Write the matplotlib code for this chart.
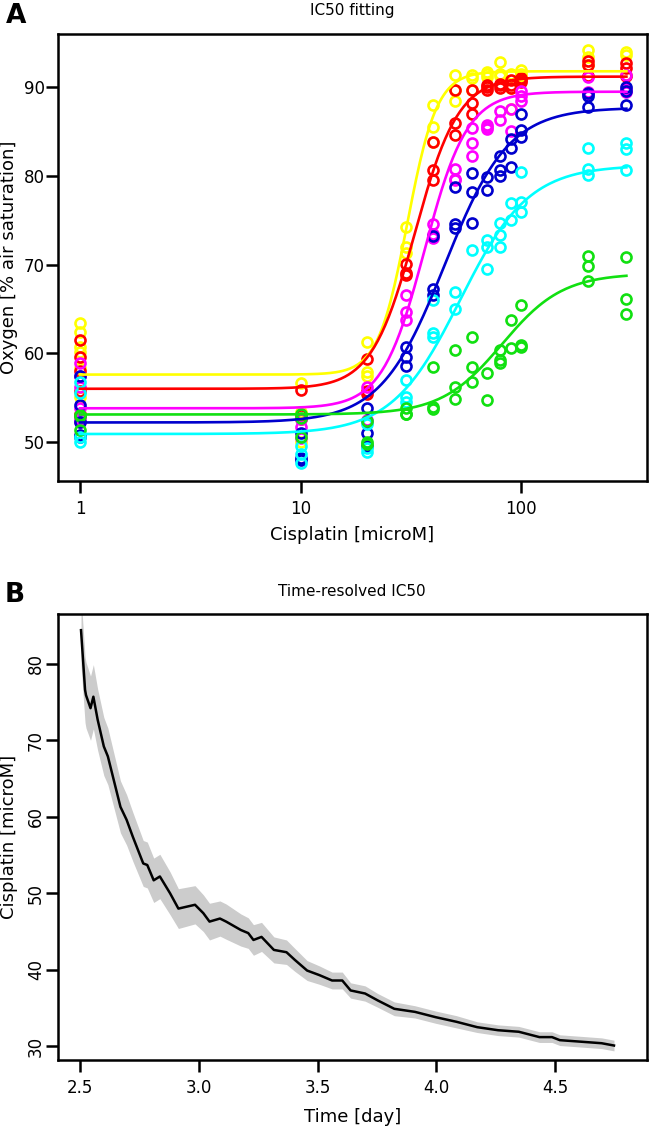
import numpy as np
import matplotlib
matplotlib.use("Agg")
import matplotlib.pyplot as plt

plt.rcParams['font.family'] = ['DejaVu Sans']

# ---- panel A: oxygen vs cisplatin concentration ----
conc = [1, 10, 20, 30, 40, 50, 60, 70, 80, 90, 100, 200, 300]

yellow_o2 = [[63.4, 62.4, 60.7, 60.2, 58.3, 55.1], [56.7, 53.4, 50.0], [61.3, 57.9, 57.4],
             [74.2, 72.0, 71.3], [88.0, 85.5, 83.8], [91.4, 89.7, 88.5], [91.4, 89.7, 91.0],
             [91.7, 91.5, 91.2], [92.9, 91.5, 91.3], [91.5, 89.9, 87.6], [92.0, 91.5, 91.3],
             [94.2, 93.4, 92.5], [94.0, 93.6, 91.4]]
red_o2 = [[61.5, 59.6, 58.0, 55.7, 53.2, 52.9], [55.9, 53.0, 52.6], [59.4, 55.7, 55.4],
          [70.1, 69.0, 68.8], [83.8, 80.7, 79.5], [89.7, 86.0, 84.6], [89.7, 88.2, 87.0],
          [89.7, 90.0, 90.2], [90.2, 89.9, 90.4], [90.8, 89.9, 90.3], [90.6, 91.0, 90.8],
          [93.0, 92.5, 91.3], [92.7, 92.2, 91.3]]
magenta_o2 = [[58.9, 57.4, 56.2, 53.8, 52.6, 52.3], [51.7, 50.4, 52.6], [56.2, 52.5, 52.2],
              [66.6, 64.7, 63.8], [74.6, 73.5, 73.0], [80.8, 79.7, 79.5], [85.4, 83.7, 82.2],
              [85.7, 85.5, 85.3], [87.3, 86.3], [87.6, 85.1], [89.6, 88.4, 89.0],
              [91.2, 89.5, 89.2], [91.4, 89.5, 89.8]]
blue_o2 = [[57.4, 54.2, 52.3, 50.8, 50.6], [51.0, 48.2, 48.0], [53.8, 51.0, 49.6],
           [60.7, 59.6, 58.6], [73.2, 67.2, 66.6], [78.8, 74.6, 74.1], [80.3, 78.2, 74.7],
           [79.9, 78.4], [82.3, 80.7, 80.0], [84.2, 83.1, 81.0], [87.0, 85.2, 84.4],
           [89.3, 87.8, 89.0], [90.0, 88.0, 89.6]]
cyan_o2 = [[56.8, 55.5, 50.6, 50.0], [48.7, 47.6, 49.5], [48.9, 49.3, 52.0],
           [57.0, 55.1, 54.5], [66.0, 62.3, 61.8], [66.9, 65.0], [71.7],
           [72.8, 72.0, 69.5], [74.7, 73.3, 72.0], [76.9, 75.0], [80.4, 77.1, 75.9],
           [83.1, 80.8, 80.1], [83.7, 83.0, 80.7]]
green_o2 = [[53.0, 52.9, 51.4], [53.2, 52.7, 50.6], [52.4, 50.0, 49.8],
            [53.8, 53.2, 53.1], [58.4, 53.9, 53.7], [60.4, 56.2, 54.9], [61.8, 58.5, 56.8],
            [57.8, 54.7], [60.4, 59.2, 58.9], [63.8, 60.6], [65.4, 60.9, 60.7],
            [71.0, 69.9, 68.1], [70.9, 66.1, 64.4]]

series_colors = ['#FFFF00', '#FF0000', '#FF00FF', '#0000CD', '#00FFFF', '#11E011']
series_points = [yellow_o2, red_o2, magenta_o2, blue_o2, cyan_o2, green_o2]

# 4-parameter logistic fit of each series
fit_bottom = [57.6, 56.0, 53.8, 52.2, 50.9, 53.1]
fit_top = [91.8, 91.2, 89.5, 87.7, 81.2, 69.0]
fit_ic50 = [30.5, 33.0, 36.5, 45.0, 53.0, 82.0]
fit_hill = [6.5, 4.4, 4.5, 3.0, 2.8, 3.16]

# ---- panel B: time-resolved IC50 ----
day = [2.504, 2.521, 2.525, 2.544, 2.556, 2.574, 2.600, 2.617, 2.670, 2.696,
       2.722, 2.766, 2.783, 2.810, 2.836, 2.879, 2.914, 2.984, 3.019, 3.045,
       3.089, 3.115, 3.177, 3.208, 3.230, 3.264, 3.316, 3.369, 3.404, 3.456,
       3.508, 3.561, 3.604, 3.639, 3.700, 3.753, 3.823, 3.910, 3.998, 4.085,
       4.172, 4.260, 4.347, 4.434, 4.487, 4.520, 4.609, 4.696, 4.748]
ic50_day = [84.4, 76.6, 75.9, 74.2, 75.7, 72.7, 69.2, 67.9, 61.3, 59.6,
            57.4, 53.9, 53.7, 51.7, 52.2, 50.0, 48.0, 48.5, 47.4, 46.3,
            46.7, 46.3, 45.2, 44.8, 43.9, 44.3, 42.6, 42.3, 41.3, 39.9,
            39.3, 38.6, 38.6, 37.3, 36.9, 36.0, 34.9, 34.5, 33.8, 33.2,
            32.5, 32.1, 31.9, 31.2, 31.2, 30.8, 30.6, 30.4, 30.1]
ic50_halfwidth = [4.5, 4.3, 4.3, 4.2, 4.2, 4.0, 3.8, 3.7, 3.4, 3.3,
                  3.2, 3.0, 3.0, 2.9, 2.9, 2.8, 2.6, 2.5, 2.4, 2.4,
                  2.3, 2.3, 2.1, 2.0, 2.0, 1.9, 1.7, 1.6, 1.5, 1.3,
                  1.2, 1.1, 1.1, 1.0, 1.0, 0.9, 0.9, 0.8, 0.8, 0.8,
                  0.7, 0.7, 0.7, 0.7, 0.7, 0.7, 0.7, 0.7, 0.7]


def style_axes(ax):
    for sp in ax.spines.values():
        sp.set_linewidth(1.8)
    ax.tick_params(width=1.8, length=8.5, labelsize=12)
    ax.tick_params(axis='x', pad=5)
    ax.tick_params(axis='y', pad=1)


fig = plt.figure(figsize=(6.5, 11.27), dpi=100)

# panel A
axA = fig.add_axes([0.0892, 0.5732, 0.9062, 0.3966])
xfit = np.logspace(0, np.log10(300), 300)
for col, pts, b, t, ic, h in zip(series_colors, series_points, fit_bottom, fit_top, fit_ic50, fit_hill):
    xs = [c for c, reps in zip(conc, pts) for _ in reps]
    ys = [v for reps in pts for v in reps]
    axA.plot(xs, ys, 'o', ms=7.2, mfc='none', mec=col, mew=1.9, zorder=2)
    axA.plot(xfit, b + (t - b) / (1 + (ic / xfit) ** h), color=col, lw=1.9, zorder=3)
axA.set_xscale('log')
axA.set_xlim(0.795, 372)
axA.set_ylim(45.6, 96.0)
axA.set_xticks([1, 10, 100])
axA.set_xticklabels(['1', '10', '100'])
axA.minorticks_off()
axA.set_yticks([50, 60, 70, 80, 90])
style_axes(axA)
axA.set_xlabel('Cisplatin [microM]', fontsize=13)
axA.set_ylabel('Oxygen [% air saturation]', fontsize=13)
axA.xaxis.set_label_coords(0.5, -0.121)
axA.xaxis.label.set_va('center')
axA.yaxis.set_label_coords(-0.083, 0.5)
axA.yaxis.label.set_va('center')

# panel B
axB = fig.add_axes([0.0892, 0.0594, 0.9062, 0.3957])
lo = np.array(ic50_day) - np.array(ic50_halfwidth)
hi = np.array(ic50_day) + np.array(ic50_halfwidth)
axB.fill_between(day, lo, hi, color='#CCCCCC', lw=0, zorder=1)
axB.plot(day, ic50_day, color='black', lw=1.8, zorder=2)
axB.set_xlim(2.407, 4.887)
axB.set_ylim(28.2, 86.5)
axB.set_xticks([2.5, 3.0, 3.5, 4.0, 4.5])
axB.set_xticklabels(['2.5', '3.0', '3.5', '4.0', '4.5'])
axB.set_yticks([30, 40, 50, 60, 70, 80])
style_axes(axB)
for lab in axB.get_yticklabels():
    lab.set_rotation(90)
    lab.set_va('center')
axB.set_xlabel('Time [day]', fontsize=13)
axB.set_ylabel('Cisplatin [microM]', fontsize=13)
axB.xaxis.set_label_coords(0.5, -0.128)
axB.xaxis.label.set_va('center')
axB.yaxis.set_label_coords(-0.083, 0.5)
axB.yaxis.label.set_va('center')

# titles and panel letters
fig.text(352 / 650, 1 - 11 / 1127, 'IC50 fitting', ha='center', va='center', fontsize=11)
fig.text(352 / 650, 1 - 592 / 1127, 'Time-resolved IC50', ha='center', va='center', fontsize=11)
fig.text(16 / 650, 1 - 16 / 1127, 'A', ha='center', va='center', fontsize=19, fontweight='bold')
fig.text(15 / 650, 1 - 595 / 1127, 'B', ha='center', va='center', fontsize=19, fontweight='bold')

fig.savefig('out.png', dpi=100)
